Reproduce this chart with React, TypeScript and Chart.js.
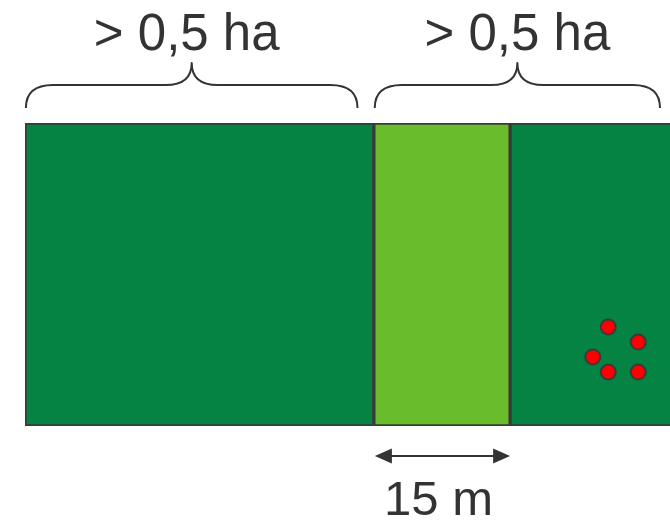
import React, { useEffect, useRef } from 'react';
import { Chart, registerables } from 'chart.js';

Chart.register(...registerables);

// Field layout in metres along the x axis
const ROW = ['field'];
const LEFT_FIELD: [number, number] = [0, 38.4];
const STRIP: [number, number] = [38.4, 53.4];
const RIGHT_FIELD: [number, number] = [53.4, 74];
const X_MAX = 71;

// Trees (red dots) in the right field
const TREE_X = [64.2, 67.5, 62.5, 64.2, 67.5];
const TREE_Y = [0.327, 0.277, 0.228, 0.178, 0.178];

// Braces above the fields
const BRACE_SPANS: [number, number][] = [
  [0.1, 36.6],
  [38.5, 69.9],
];
const BRACE_LABELS = ['> 0,5 ha', '> 0,5 ha'];
const STRIP_LABEL = '15 m';

const DARK_GREEN = '#058343';
const LIGHT_GREEN = '#6abd2a';
const EDGE = '#3a3a3a';
const INK = '#333333';
const FONT = '"Liberation Sans", Arial, sans-serif';
const LABEL_SHIFT = [-5, 0];

const annotPlugin = {
  id: 'annot',
  afterDraw(chart: any) {
    const { ctx, chartArea, scales } = chart;
    const xs = scales.x;
    const top = chartArea.top;
    const bottom = chartArea.bottom;
    ctx.save();
    ctx.strokeStyle = INK;
    ctx.fillStyle = INK;
    ctx.lineWidth = 2;
    ctx.lineCap = 'butt';
    ctx.lineJoin = 'round';

    BRACE_SPANS.forEach(([a, b], i) => {
      const x0 = xs.getPixelForValue(a);
      const x1 = xs.getPixelForValue(b);
      const xm = (x0 + x1) / 2;
      const yb = top - 15;
      const yh = top - 38;
      const yt = top - 60;
      const r = 27;
      const r2 = 26;
      ctx.beginPath();
      ctx.moveTo(x0, yb);
      ctx.quadraticCurveTo(x0, yh, x0 + r, yh);
      ctx.lineTo(xm - r2, yh);
      ctx.quadraticCurveTo(xm, yh, xm, yt);
      ctx.quadraticCurveTo(xm, yh, xm + r2, yh);
      ctx.lineTo(x1 - r, yh);
      ctx.quadraticCurveTo(x1, yh, x1, yb);
      ctx.stroke();

      ctx.font = `51px ${FONT}`;
      ctx.textAlign = 'center';
      ctx.textBaseline = 'alphabetic';
      ctx.fillText(BRACE_LABELS[i], xm + LABEL_SHIFT[i], top - 73);
    });

    // Double arrow under the strip
    const ax0 = xs.getPixelForValue(STRIP[0]) + 1;
    const ax1 = xs.getPixelForValue(STRIP[1]);
    const ay = bottom + 30;
    const hl = 17;
    const hw = 7.5;
    ctx.beginPath();
    ctx.moveTo(ax0 + hl - 2, ay);
    ctx.lineTo(ax1 - hl + 2, ay);
    ctx.stroke();
    ctx.beginPath();
    ctx.moveTo(ax0, ay);
    ctx.lineTo(ax0 + hl, ay - hw);
    ctx.lineTo(ax0 + hl, ay + hw);
    ctx.closePath();
    ctx.fill();
    ctx.beginPath();
    ctx.moveTo(ax1, ay);
    ctx.lineTo(ax1 - hl, ay - hw);
    ctx.lineTo(ax1 - hl, ay + hw);
    ctx.closePath();
    ctx.fill();

    ctx.font = `49px ${FONT}`;
    ctx.textAlign = 'center';
    ctx.textBaseline = 'alphabetic';
    ctx.fillText(STRIP_LABEL, (ax0 + ax1) / 2 - 4, bottom + 89);
    ctx.restore();
  },
};

export default function App() {
  const ref = useRef<HTMLCanvasElement | null>(null);

  useEffect(() => {
    if (!ref.current) return;
    const barCommon = {
      type: 'bar' as const,
      xAxisID: 'x',
      yAxisID: 'y',
      borderColor: EDGE,
      borderWidth: 2,
      borderSkipped: false,
      barPercentage: 1,
      categoryPercentage: 1,
      grouped: false,
      clip: 0,
    };
    const chart = new Chart(ref.current, {
      type: 'bar',
      data: {
        labels: ROW,
        datasets: [
          { ...barCommon, label: 'left', data: [LEFT_FIELD], backgroundColor: DARK_GREEN, order: 3 },
          { ...barCommon, label: 'right', data: [RIGHT_FIELD], backgroundColor: DARK_GREEN, order: 2 },
          { ...barCommon, label: 'strip', data: [STRIP], backgroundColor: LIGHT_GREEN, order: 1 },
          {
            type: 'scatter',
            label: 'trees',
            indexAxis: 'x',
            xAxisID: 'x',
            yAxisID: 'y2',
            data: TREE_X.map((x, i) => ({ x, y: TREE_Y[i] })),
            pointRadius: 7.5,
            pointHoverRadius: 7.5,
            pointBackgroundColor: '#ff0000',
            pointBorderColor: EDGE,
            pointBorderWidth: 2,
            order: 0,
          } as any,
        ],
      },
      options: {
        indexAxis: 'y',
        responsive: false,
        animation: false,
        devicePixelRatio: 1,
        layout: { autoPadding: false, padding: { left: 25, top: 123, right: 0, bottom: 94 } },
        scales: {
          x: { type: 'linear', min: 0, max: X_MAX, display: false, offset: false },
          y: { type: 'category', display: false },
          y2: { type: 'linear', min: 0, max: 1, display: false, offset: false },
        },
        plugins: {
          legend: { display: false },
          tooltip: { enabled: false },
        },
        events: [],
      } as any,
      plugins: [annotPlugin],
    });
    return () => chart.destroy();
  }, []);

  return (
    <div style={{ position: 'absolute', left: 0, top: 0, width: 670, height: 520, background: '#ffffff' }}>
      <canvas ref={ref} width={670} height={520} style={{ width: 670, height: 520, display: 'block' }} />
    </div>
  );
}
